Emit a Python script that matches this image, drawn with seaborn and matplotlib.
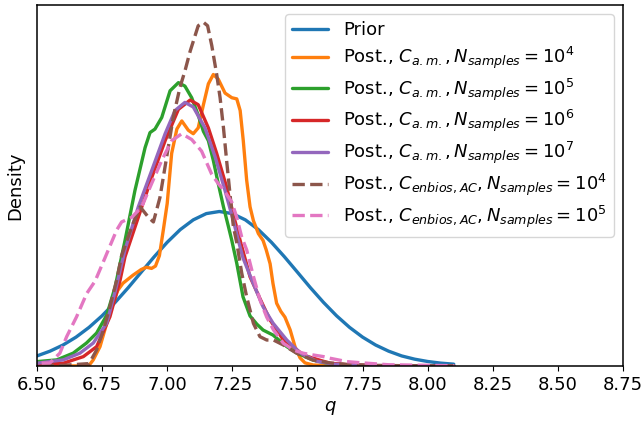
import matplotlib
matplotlib.use("Agg")
import matplotlib.pyplot as plt
import seaborn as sns
import numpy as np

# ---- data ----
prior_q = [6.40, 6.45, 6.50, 6.55, 6.60, 6.65, 6.70, 6.75, 6.80, 6.85, 6.90, 6.95,
           7.00, 7.05, 7.10, 7.15, 7.20, 7.25, 7.30, 7.35, 7.40, 7.45, 7.50, 7.55,
           7.60, 7.65, 7.70, 7.75, 7.80, 7.85, 7.90, 7.95, 8.00, 8.05, 8.10]
prior_d = [0.038, 0.058, 0.086, 0.127, 0.180, 0.248, 0.332, 0.432, 0.547, 0.673, 0.807, 0.940,
           1.065, 1.174, 1.258, 1.312, 1.330, 1.312, 1.258, 1.174, 1.065, 0.940, 0.807, 0.673,
           0.547, 0.432, 0.332, 0.248, 0.180, 0.127, 0.086, 0.058, 0.038, 0.024, 0.015]

am4_q = [6.45, 6.55, 6.65, 6.70, 6.716, 6.742, 6.768, 6.792, 6.81, 6.83, 6.869, 6.90, 6.92,
         6.94, 6.955, 6.97, 6.985, 7.00, 7.017, 7.037, 7.056, 7.081, 7.10, 7.119, 7.139,
         7.158, 7.177, 7.196, 7.222, 7.248, 7.267, 7.28, 7.292, 7.305, 7.318, 7.331, 7.35,
         7.368, 7.38, 7.395, 7.406, 7.42, 7.436, 7.452, 7.472, 7.491, 7.51, 7.529, 7.56,
         7.65, 8.10]
am4_d = [0.0, 0.0, 0.0, 0.005, 0.052, 0.166, 0.369, 0.54, 0.65, 0.712, 0.782, 0.83, 0.85,
         0.84, 0.86, 0.95, 1.17, 1.40, 1.83, 2.04, 2.11, 2.03, 2.0, 2.05, 2.25,
         2.43, 2.51, 2.47, 2.35, 2.31, 2.30, 2.20, 1.94, 1.60, 1.37, 1.25, 1.14,
         1.08, 1.0, 0.88, 0.71, 0.54, 0.47, 0.42, 0.31, 0.163, 0.069, 0.026, 0.008,
         0.0, 0.0]

am5_q = [6.45, 6.50, 6.576, 6.639, 6.69, 6.729, 6.768, 6.80, 6.838, 6.876, 6.915, 6.934,
         6.953, 6.979, 7.011, 7.043, 7.068, 7.094, 7.119, 7.139, 7.158, 7.177, 7.196,
         7.216, 7.235, 7.248, 7.267, 7.291, 7.318, 7.344, 7.368, 7.406, 7.459, 7.497,
         7.56, 7.62, 7.70, 7.80, 8.10]
am5_d = [0.03, 0.037, 0.052, 0.11, 0.197, 0.283, 0.438, 0.68, 1.08, 1.51, 1.88, 2.01,
         2.04, 2.14, 2.37, 2.44, 2.41, 2.31, 2.16, 2.02, 1.94, 1.77, 1.57,
         1.37, 1.20, 1.08, 0.884, 0.595, 0.43, 0.36, 0.309, 0.266, 0.166, 0.112,
         0.05, 0.02, 0.008, 0.002, 0.0]

am6_q = [6.45, 6.50, 6.601, 6.678, 6.729, 6.78, 6.819, 6.838, 6.889, 6.94, 6.992, 7.043,
         7.088, 7.119, 7.158, 7.19, 7.228, 7.26, 7.28, 7.318, 7.356, 7.395, 7.446, 7.483,
         7.522, 7.561, 7.625, 7.70, 7.80, 8.10]
am6_d = [0.01, 0.015, 0.023, 0.08, 0.166, 0.423, 0.738, 0.94, 1.28, 1.62, 1.94, 2.21,
         2.29, 2.25, 2.05, 1.83, 1.54, 1.25, 1.08, 0.767, 0.58, 0.395, 0.223, 0.166,
         0.094, 0.066, 0.023, 0.01, 0.003, 0.0]

am7_q = [6.45, 6.499, 6.601, 6.665, 6.716, 6.768, 6.80, 6.838, 6.889, 6.94, 6.992, 7.03,
         7.068, 7.10, 7.145, 7.184, 7.222, 7.254, 7.273, 7.291, 7.33, 7.368, 7.406, 7.459,
         7.51, 7.574, 7.64, 7.75, 8.10]
am7_d = [0.02, 0.023, 0.052, 0.11, 0.197, 0.369, 0.64, 1.0, 1.37, 1.68, 2.0, 2.2,
         2.27, 2.23, 2.05, 1.80, 1.51, 1.25, 1.08, 0.93, 0.712, 0.509, 0.369, 0.223,
         0.112, 0.04, 0.015, 0.004, 0.0]

en4_q = [6.45, 6.60, 6.70, 6.729, 6.755, 6.78, 6.806, 6.825, 6.864, 6.896, 6.928, 6.947,
         6.972, 6.998, 7.023, 7.049, 7.068, 7.088, 7.119, 7.139, 7.155, 7.171, 7.19, 7.203,
         7.216, 7.228, 7.241, 7.254, 7.267, 7.286, 7.305, 7.331, 7.356, 7.382, 7.408, 7.446,
         7.497, 7.56, 7.625, 7.70, 7.80, 8.10]
en4_d = [0.005, 0.005, 0.02, 0.137, 0.309, 0.509, 0.738, 0.95, 1.20, 1.37, 1.28, 1.24,
         1.45, 1.80, 2.14, 2.40, 2.54, 2.71, 2.93, 2.96, 2.93, 2.76, 2.51, 2.31,
         2.05, 1.77, 1.48, 1.20, 1.06, 0.80, 0.595, 0.366, 0.252, 0.223, 0.223, 0.18,
         0.109, 0.05, 0.026, 0.01, 0.003, 0.0]

en5_q = [6.45, 6.50, 6.55, 6.588, 6.614, 6.652, 6.691, 6.723, 6.761, 6.774, 6.806, 6.825,
         6.864, 6.902, 6.94, 6.979, 7.017, 7.056, 7.094, 7.132, 7.171, 7.196, 7.222, 7.248,
         7.267, 7.286, 7.305, 7.331, 7.356, 7.382, 7.408, 7.446, 7.484, 7.523, 7.561, 7.60,
         7.625, 7.69, 7.75, 7.85, 8.10]
en5_d = [0.02, 0.023, 0.026, 0.11, 0.252, 0.423, 0.624, 0.73, 0.93, 1.0, 1.17, 1.24,
         1.28, 1.37, 1.57, 1.77, 1.94, 2.0, 1.95, 1.85, 1.65, 1.57, 1.50, 1.41,
         1.28, 1.11, 1.0, 0.77, 0.57, 0.42, 0.31, 0.195, 0.137, 0.109, 0.094, 0.08,
         0.066, 0.037, 0.026, 0.01, 0.002]

labels = [
    "Prior",
    r"Post., $C_{a.m.}, N_{samples} = 10^4$",
    r"Post., $C_{a.m.}, N_{samples} = 10^5$",
    r"Post., $C_{a.m.}, N_{samples} = 10^6$",
    r"Post., $C_{a.m.}, N_{samples} = 10^7$",
    r"Post., $C_{enbios, AC}, N_{samples} = 10^4$",
    r"Post., $C_{enbios, AC}, N_{samples} = 10^5$",
]
xticks = [6.50, 6.75, 7.00, 7.25, 7.50, 7.75, 8.00, 8.25, 8.50, 8.75]

series = [(prior_q, prior_d), (am4_q, am4_d), (am5_q, am5_d), (am6_q, am6_d),
          (am7_q, am7_d), (en4_q, en4_d), (en5_q, en5_d)]
colors = ["#1f77b4", "#ff7f0e", "#2ca02c", "#d62728", "#9467bd", "#8c564b", "#e377c2"]
styles = ["-", "-", "-", "-", "-", "--", "--"]

plt.rcParams["font.family"] = ["DejaVu Sans"]
plt.rcParams["lines.solid_capstyle"] = "round"
plt.rcParams["lines.solid_joinstyle"] = "round"
fig = plt.figure(figsize=(6.43, 4.24), dpi=100)
ax = fig.add_axes([0.0575, 0.137, 0.9115, 0.851])

for (q, d), lab, c, ls in zip(series, labels, colors, styles):
    sns.lineplot(x=q, y=d, ax=ax, color=c, linestyle=ls, linewidth=2.4,
                 label=lab, sort=True, estimator=None)

ax.set_xlim(6.5, 8.75)
ax.set_ylim(bottom=0)
ax.set_xticks(xticks)
ax.set_xticklabels([f"{t:.2f}" for t in xticks])
ax.set_yticks([])
for s in ax.spines.values():
    s.set_linewidth(1.1)
ax.tick_params(axis="x", labelsize=13)
ax.set_xlabel("$q$", fontsize=13)
ax.set_ylabel("Density", fontsize=13, labelpad=9)
ax.legend(loc="upper right", fontsize=13, labelspacing=0.3)

fig.savefig("out.png", dpi=100)
